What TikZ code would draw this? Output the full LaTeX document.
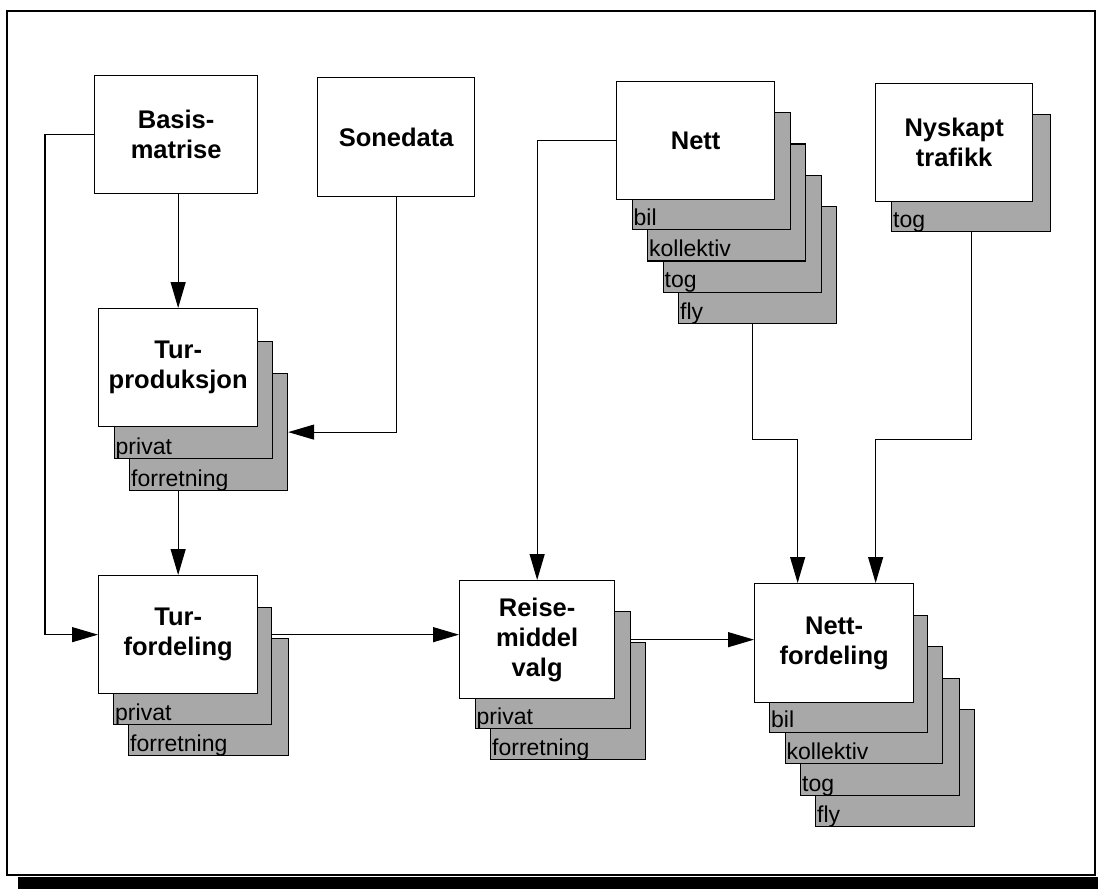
\documentclass[tikz,border=0pt]{standalone}
\usepackage{fontspec}
\setmainfont{Liberation Sans}
\usetikzlibrary{arrows.meta}
\definecolor{shade}{gray}{0.66}
\begin{document}
\begin{tikzpicture}[x=1pt,y=-1pt,
  layer/.style={draw=black, line width=1.2pt, fill=shade, anchor=north west, inner sep=0pt,
     minimum width=158pt, minimum height=117pt,
     label={[anchor=base west, xshift=2pt, yshift=5pt, inner sep=0pt, font=\fontsize{23}{25}\selectfont]south west:#1}},
  mainbox/.style={draw=black, line width=1.3pt, fill=white, anchor=north west, inner sep=0pt,
     minimum width=158pt, minimum height=118pt, align=center,
     font=\fontsize{25.5}{30}\selectfont\bfseries},
  arr/.style={line width=1.2pt, -{Triangle[length=26pt,width=15pt]}}]
\useasboundingbox (0,0) rectangle (1098,889);
\draw[line width=2pt] (7,11) rectangle (1095,875);
\fill (18,877) rectangle (1098,889);

% Basis-matrise, Sonedata
\node[mainbox, minimum width=163pt] (basis) at (94,75) {Basis-\\matrise};
\node[mainbox, minimum width=157pt, minimum height=119pt] (sone) at (317,77) {Sonedata};

% Nett stack
\node[layer=fly] (nett4) at (678,206) {};
\node[layer=tog] (nett3) at (662.5,174.6) {};
\node[layer=kollektiv] (nett2) at (647,143.4) {};
\node[layer=bil] (nett1) at (631.5,112.2) {};
\node[mainbox] (nett) at (616,81) {Nett};

% Nyskapt trafikk
\node[layer=tog, minimum width=159pt] (nysk1) at (891,114) {};
\node[mainbox, minimum width=157pt] (nysk) at (875,83) {Nyskapt\\trafikk};

% Turproduksjon
\node[layer=forretning] (turp2) at (129,373) {};
\node[layer=privat] (turp1) at (113.5,341) {};
\node[mainbox, minimum width=159pt] (turp) at (98,308) {Tur-\\produksjon};

% Turfordeling
\node[layer=forretning, minimum width=160pt] (turf2) at (128,638) {};
\node[layer=privat] (turf1) at (113,607) {};
\node[mainbox, minimum width=159pt] (turf) at (98,575) {Tur-\\fordeling};

% Reisemiddelvalg
\node[layer=forretning, minimum width=155pt] (reis2) at (490,642) {};
\node[layer=privat, minimum width=155pt] (reis1) at (474.5,611) {};
\node[mainbox, minimum width=155pt] (reis) at (459,580) {Reise-\\middel\\valg};

% Nettfordeling
\node[layer=fly, minimum width=159pt] (nf4) at (815,709) {};
\node[layer=tog, minimum width=159pt] (nf3) at (800,678) {};
\node[layer=kollektiv, minimum width=157pt] (nf2) at (784.5,646) {};
\node[layer=bil] (nf1) at (769,614.5) {};
\node[mainbox, minimum width=159pt, minimum height=119pt] (nettf) at (754,583) {Nett-\\fordeling};

% connectors
\draw[arr] (basis.west) -- ++(-49,0) |- (turf.west);
\draw[arr] (turp.north |- basis.south) -- (turp.north);
\draw[arr] (sone.south) |- (turp2.east);
\draw[arr] (turp.south |- turp2.south) -- (turf.north);
\draw[arr] (turf1.east |- turf.east) -- (turf.east -| reis.west);
\draw[arr] (reis1.east |- reis.east) -- (reis.east -| nettf.west);
\draw[arr] (nett.west) -| (reis.north);
\draw[arr] ([xshift=-5pt]nett4.south) -- ++(0,115) -| ([xshift=-36.5pt]nettf.north);
\draw[arr] (nysk1.south) -- ++(0,207) -| ([xshift=41.5pt]nettf.north);
\end{tikzpicture}
\end{document}
